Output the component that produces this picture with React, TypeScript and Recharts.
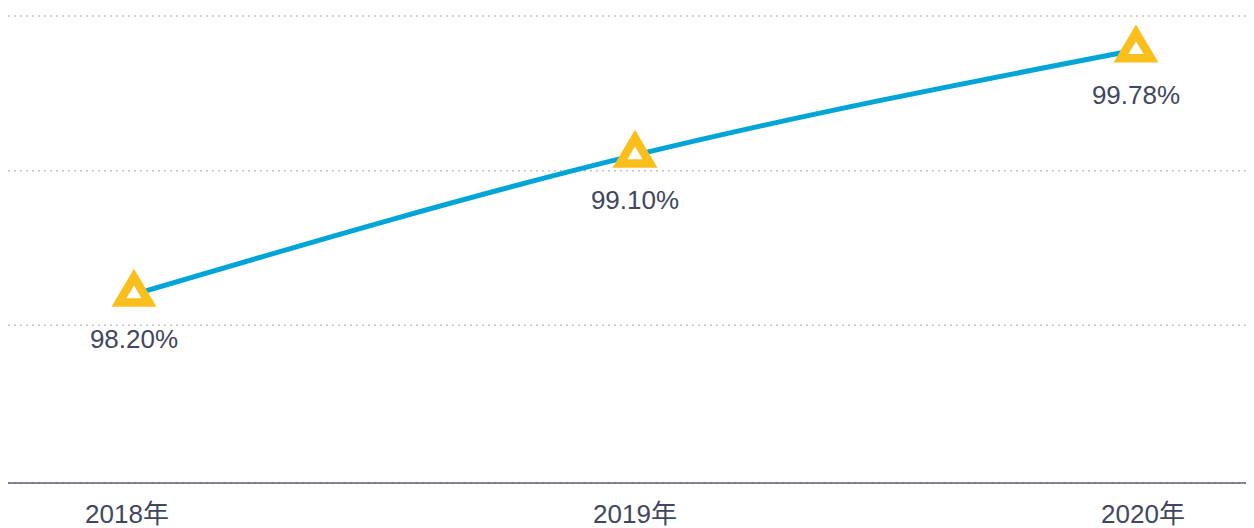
import React from "react";
import { LineChart, Line, XAxis, YAxis, CartesianGrid } from "recharts";

const categories = ["2018年", "2019年", "2020年"];
const values = [98.2, 99.1, 99.78];
const valueLabels = ["98.20%", "99.10%", "99.78%"];
const gridTicks = [98, 99, 100];

const data = categories.map((c, i) => ({ year: c, value: values[i], label: valueLabels[i] }));

const TEXT = "#41475f";
const FONT = "'Liberation Sans', Arial, 'Noto Sans CJK SC', sans-serif";

const TriangleDot = (props: any) => {
  const { cx, cy, index } = props;
  if (cx == null || cy == null) return null;
  const top = -25.5, base = 12.5, hw = 22.5;
  const t = 8.5;
  const h = base - top;
  const tanT = hw / h;
  const sinT = hw / Math.sqrt(hw * hw + h * h);
  const iBase = base - t;
  const iTop = top + t / sinT;
  const ihw = (iBase - iTop) * tanT;
  return (
    <g key={`dot-${index}`}>
      <polygon
        points={`${cx},${cy + top} ${cx - hw},${cy + base} ${cx + hw},${cy + base}`}
        fill="#fbbf1c"
      />
      <polygon
        points={`${cx},${cy + iTop} ${cx - ihw},${cy + iBase} ${cx + ihw},${cy + iBase}`}
        fill="#ffffff"
      />
    </g>
  );
};

const ValueLabel = (props: any) => {
  const { x, y, index } = props;
  return (
    <text
      key={`lbl-${index}`}
      x={x}
      y={y + 54}
      textAnchor="middle"
      fill={TEXT}
      fontSize={26}
      fontFamily={FONT}
    >
      {valueLabels[index]}
    </text>
  );
};

export default function App() {
  return (
    <LineChart
      width={1246}
      height={520}
      data={data}
      margin={{ top: 8, right: 0, bottom: 0, left: 0 }}
    >
      <CartesianGrid
        horizontal={true}
        vertical={false}
        stroke="#c4c4c4"
        strokeDasharray="2 4"
        strokeWidth={1.5}
      />
      <XAxis
        dataKey="year"
        height={45}
        padding={{ left: 119, right: 111 }}
        axisLine={{ stroke: "#5b6076", strokeWidth: 1.4 }}
        tickLine={false}
        tickSize={0}
        tickMargin={22}
        tick={{ fill: TEXT, fontSize: 26, fontFamily: FONT }}
        interval={0}
      />
      <XAxis
        xAxisId="pts"
        dataKey="year"
        hide
        padding={{ left: 126, right: 118 }}
      />
      <YAxis hide domain={[96.98, 100]} ticks={gridTicks} allowDataOverflow />
      <Line
        xAxisId="pts"
        type="monotone"
        dataKey="value"
        stroke="#00a5d8"
        strokeWidth={5}
        dot={<TriangleDot />}
        activeDot={false}
        label={<ValueLabel />}
        isAnimationActive={false}
      />
    </LineChart>
  );
}
